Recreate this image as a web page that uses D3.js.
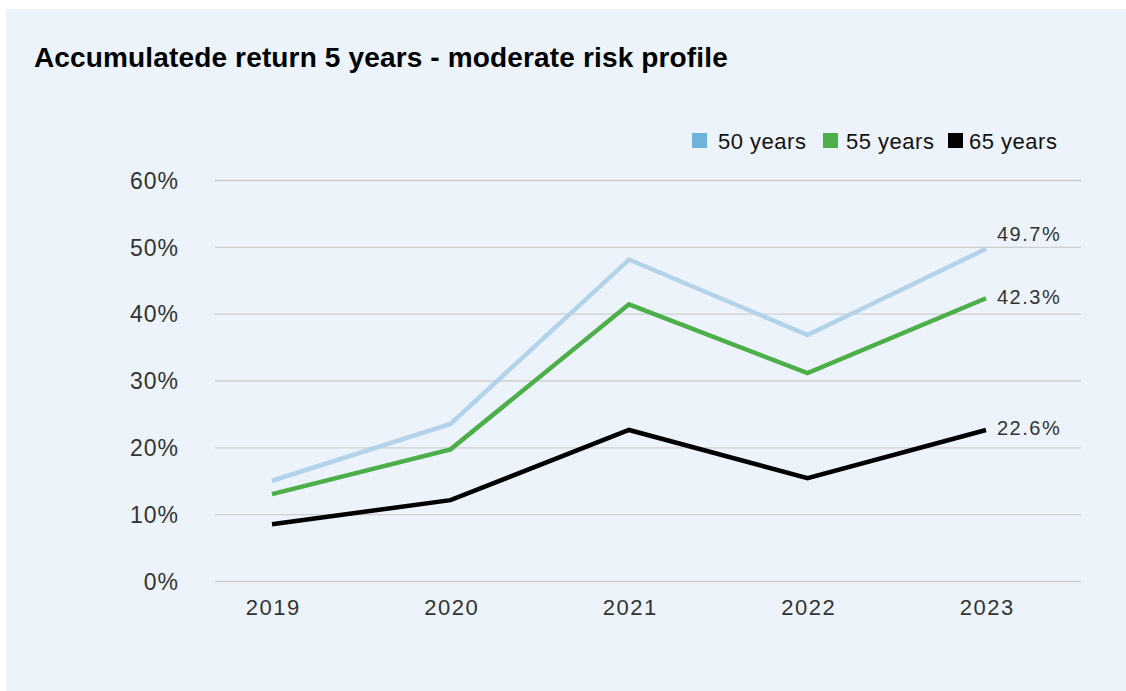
<!DOCTYPE html>
<html>
<head>
<meta charset="utf-8">
<script src="https://cdn.jsdelivr.net/npm/d3@7"></script>
<style>
  body { margin: 0; background: #ffffff; }
  svg { display: block; font-family: "Liberation Sans", Arial, sans-serif; }
</style>
</head>
<body>
<svg id="chart" width="1126" height="691"></svg>
<script>
var years = ["2019", "2020", "2021", "2022", "2023"];
var seriesNames = ["50 years", "55 years", "65 years"];
var values50 = [15.0, 23.5, 48.1, 36.8, 49.7];
var values55 = [13.0, 19.7, 41.4, 31.1, 42.3];
var values65 = [8.5, 12.1, 22.6, 15.4, 22.6];
var yTicks = [0, 10, 20, 30, 40, 50, 60];

var lineColors = ["#b3d3ea", "#4caf4a", "#000000"];
var legendColors = ["#6db3da", "#4caf4a", "#000000"];
var labelShift = [-8, 6, 5];

var series = [values50, values55, values65].map(function(v, i) {
    return { name: seriesNames[i], values: v, color: lineColors[i], key: legendColors[i], shift: labelShift[i] };
});

var svg = d3.select("#chart");

svg.append("rect")
    .attr("x", 6).attr("y", 9)
    .attr("width", 1120).attr("height", 682)
    .attr("fill", "#edf3fa");

svg.append("text")
    .attr("x", 34).attr("y", 67)
    .style("font-size", "28px")
    .style("font-weight", "bold")
    .style("letter-spacing", "0.15px")
    .attr("fill", "#000")
    .text("Accumulatede return 5 years - moderate risk profile");

var gridLeft = 215, gridRight = 1081;
var x = d3.scalePoint().domain(years).range([272, 986]);
var y = d3.scaleLinear().domain([0, 60]).range([581, 180]);

// horizontal grid
svg.append("g")
    .attr("transform", "translate(" + gridLeft + ",0)")
    .call(d3.axisRight(y).tickValues(yTicks).tickFormat("").tickSize(gridRight - gridLeft))
    .call(function(g) { g.select(".domain").remove(); })
    .selectAll("line")
    .attr("stroke", "#cfcfcf")
    .attr("stroke-width", 1.3);

// y labels
svg.append("g")
    .attr("transform", "translate(179,0)")
    .call(d3.axisLeft(y).tickValues(yTicks).tickSize(0).tickPadding(0).tickFormat(function(d) { return d + "%"; }))
    .call(function(g) { g.select(".domain").remove(); })
    .selectAll("text")
    .attr("dy", "0.36em")
    .style("font-size", "23px")
    .style("letter-spacing", "1px")
    .style("font-family", "Liberation Sans, Arial, sans-serif")
    .attr("fill", "#333");

// x labels
svg.append("g")
    .attr("transform", "translate(0,615)")
    .call(d3.axisBottom(x).tickSize(0).tickPadding(0))
    .call(function(g) { g.select(".domain").remove(); })
    .selectAll("text")
    .attr("dy", 0)
    .attr("dx", "0.75px")
    .style("font-size", "22px")
    .style("letter-spacing", "1.5px")
    .style("font-family", "Liberation Sans, Arial, sans-serif")
    .attr("fill", "#333");

var line = d3.line()
    .x(function(d, i) { return x(years[i]); })
    .y(function(d) { return y(d); });

svg.selectAll(".series")
    .data(series)
    .enter().append("path")
    .attr("class", "series")
    .attr("d", function(d) { return line(d.values); })
    .attr("fill", "none")
    .attr("stroke", function(d) { return d.color; })
    .attr("stroke-width", 4.5)
    .attr("stroke-linejoin", "miter");

// end labels
svg.selectAll(".endlabel")
    .data(series)
    .enter().append("text")
    .attr("class", "endlabel")
    .attr("x", x(years[years.length - 1]) + 11)
    .attr("y", function(d) { return y(d.values[d.values.length - 1]) + d.shift; })
    .style("font-size", "20px")
    .style("letter-spacing", "1.5px")
    .attr("fill", "#333")
    .text(function(d) { return d.values[d.values.length - 1].toFixed(1) + "%"; });

// legend
var keyX = [692, 823, 948];
var keyTextX = [718, 846, 969];
var legend = svg.selectAll(".legend")
    .data(series)
    .enter().append("g")
    .attr("class", "legend");

legend.append("rect")
    .attr("x", function(d, i) { return keyX[i]; })
    .attr("y", 133)
    .attr("width", 15).attr("height", 15)
    .attr("fill", function(d) { return d.key; });

legend.append("text")
    .attr("x", function(d, i) { return keyTextX[i]; })
    .attr("y", 149)
    .style("font-size", "22px")
    .style("letter-spacing", "0.5px")
    .attr("fill", "#111")
    .text(function(d) { return d.name; });
</script>
</body>
</html>
